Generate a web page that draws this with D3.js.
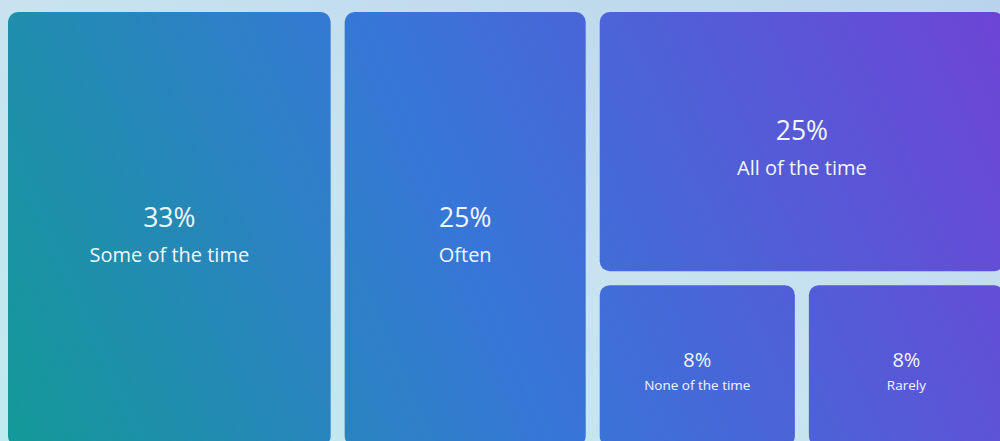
<!DOCTYPE html>
<html lang="en">
    <head>
        <meta charset="utf-8">
        <title>How often</title>
        <script src="https://cdnjs.cloudflare.com/ajax/libs/d3/7.8.5/d3.min.js" charset="utf-8"></script>
        <style>
            html, body { margin: 0; padding: 0; overflow: hidden; }
            text { font-family: "Open Sans", "Noto Sans", sans-serif; }
        </style>
    </head>
    <body>
        <div class="container"></div>

        <script type="text/javascript">
            // answers, shares in percent
            var answers = ["Some of the time", "Often", "All of the time", "None of the time", "Rarely"];
            var shares = [33, 25, 25, 8, 8];

            var width = 1000; var height = 441;
            var svg = d3.select(".container").append("svg")
                .attr("width", width).attr("height", height);

            var defs = svg.append("defs");
            var bg = defs.append("linearGradient").attr("id", "bg")
                .attr("x1", 0).attr("y1", 1).attr("x2", 1).attr("y2", 0);
            bg.append("stop").attr("offset", 0).attr("stop-color", "#bfeaef");
            bg.append("stop").attr("offset", 0.5).attr("stop-color", "#c8e3ef");
            bg.append("stop").attr("offset", 1).attr("stop-color", "#b9d3ec");

            var fill = defs.append("linearGradient").attr("id", "fill")
                .attr("gradientUnits", "userSpaceOnUse")
                .attr("x1", 0).attr("y1", height).attr("x2", width).attr("y2", 0)
                .attr("gradientTransform", "translate(-8,-12)"); // tiles sit in a shifted group
            fill.append("stop").attr("offset", 0).attr("stop-color", "#139a97");
            fill.append("stop").attr("offset", 0.47).attr("stop-color", "#3776d8");
            fill.append("stop").attr("offset", 1).attr("stop-color", "#6e44d6");

            svg.append("rect").attr("width", width).attr("height", height).attr("fill", "url(#bg)");

            // nested data: root -> [a, b, column -> [c, row -> [d, e]]]
            var leaves = answers.map(function(a, i) { return {name: a, value: shares[i]}; });
            var tree = {children: [
                leaves[0], leaves[1],
                {children: [leaves[2], {children: [leaves[3], leaves[4]]}]}
            ]};

            var root = d3.hierarchy(tree).sum(function(d) { return d.value || 0; });
            d3.treemap()
                .tile(d3.treemapSliceDice)
                .size([996, 434])
                .paddingInner(14)
                .paddingOuter(0)(root);

            var g = svg.append("g").attr("transform", "translate(8,12)");

            var cell = g.selectAll("g.cell").data(root.leaves()).enter().append("g")
                .attr("class", "cell");

            cell.append("rect")
                .attr("x", function(d) { return d.x0; })
                .attr("y", function(d) { return d.y0; })
                .attr("width", function(d) { return d.x1 - d.x0; })
                .attr("height", function(d) { return d.y1 - d.y0; })
                .attr("rx", 10).attr("ry", 10)
                .attr("fill", "url(#fill)");

            function small(d) { return d.data.value < 10; }

            cell.append("text")
                .attr("x", function(d) { return (d.x0 + d.x1) / 2; })
                .attr("y", function(d) {
                    var c = (d.y0 + d.y1) / 2;
                    return small(d) ? c + 1 : c - 2;
                })
                .attr("text-anchor", "middle")
                .attr("fill", "#f2f6fc")
                .attr("font-size", function(d) { return small(d) ? "20px" : "26.5px"; })
                .text(function(d) { return d.data.value + "%"; });

            cell.append("text")
                .attr("x", function(d) { return (d.x0 + d.x1) / 2; })
                .attr("y", function(d) {
                    var c = (d.y0 + d.y1) / 2;
                    return small(d) ? c + 24 : c + 33;
                })
                .attr("text-anchor", "middle")
                .attr("fill", "#f2f6fc")
                .attr("font-size", function(d) { return small(d) ? "13.5px" : "20px"; })
                .text(function(d) { return d.data.name; });
        </script>
    </body>
</html>
